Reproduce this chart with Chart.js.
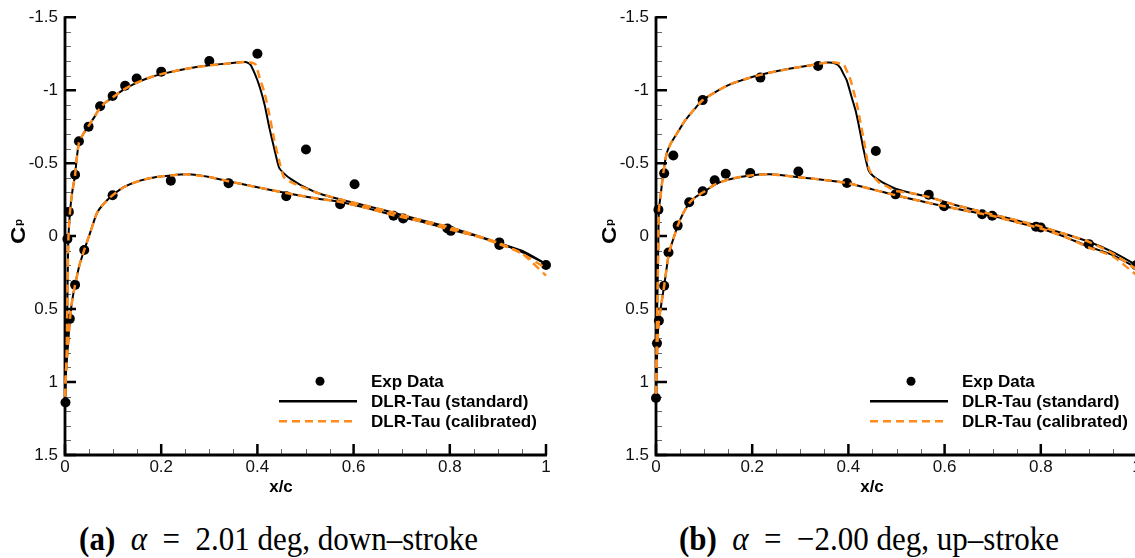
<!DOCTYPE html>
<html><head><meta charset="utf-8">
<script src="https://cdn.jsdelivr.net/npm/chart.js@4.4.1/dist/chart.umd.min.js"></script>
<style>
html,body{margin:0;padding:0;background:#fff;}
body{width:1135px;height:558px;overflow:hidden;position:relative;}
canvas{position:absolute;top:0;}
#ca{left:0;}
#cb{left:591px;}
.cap{position:absolute;top:523px;font-family:"Liberation Serif","Times New Roman",serif;font-size:31px;line-height:33px;text-align:center;white-space:nowrap;color:#000;transform:scaleY(1.08);transform-origin:50% 80%;}
</style></head><body>
<canvas id="ca" width="567" height="500"></canvas>
<canvas id="cb" width="567" height="500"></canvas>
<div class="cap" id="capA" style="left:0;width:557px;"></div>
<div class="cap" id="capB" style="left:591px;width:556px;"></div>
<script>
// ---------- labels ----------
const xTickLabels = ['0', '0.2', '0.4', '0.6', '0.8', '1'];
const yTickLabels = ['-1.5', '-1', '-0.5', '0', '0.5', '1', '1.5'];
const legendLabels = ['Exp Data', 'DLR-Tau (standard)', 'DLR-Tau (calibrated)'];
const xTitle = 'x/c';
const yTitleMain = 'C';
const yTitleSub = 'p';
const captionA = ['(a)', 'α', '= 2.01 deg, down–stroke'];
const captionB = ['(b)', 'α', '= −2.00 deg, up–stroke'];

// ---------- panel (a) data ----------
const aExpX  = [0.001, 0.005, 0.008, 0.021, 0.029, 0.049, 0.073, 0.099, 0.125, 0.149, 0.2, 0.3, 0.4, 0.501, 0.602, 0.683, 0.795, 0.903, 1.0,
                0.01, 0.021, 0.04, 0.099, 0.22, 0.34, 0.46, 0.572, 0.703, 0.802, 0.903];
const aExpCp = [1.14, 0.02, -0.166, -0.42, -0.65, -0.75, -0.89, -0.96, -1.03, -1.08, -1.127, -1.2, -1.25, -0.593, -0.355, -0.139, -0.052, 0.043, 0.198,
                0.567, 0.334, 0.095, -0.28, -0.38, -0.363, -0.273, -0.218, -0.12, -0.036, 0.061];

const aStdUpX  = [0, 0.002, 0.0035, 0.0045, 0.0055, 0.007, 0.0104, 0.015, 0.021, 0.024, 0.029, 0.038, 0.049, 0.06, 0.073, 0.086, 0.099, 0.12, 0.142, 0.17, 0.2, 0.25, 0.3, 0.34, 0.375,
                  0.385, 0.395, 0.405, 0.415, 0.425, 0.435, 0.445, 0.455, 0.47, 0.49, 0.53, 0.58, 0.63, 0.68, 0.74, 0.8, 0.85, 0.9, 0.95, 1.0];
const aStdUpCp = [1.12, 0.95, 0.78, 0.55, 0.32, 0.02, -0.166, -0.3, -0.42, -0.52, -0.64, -0.7, -0.755, -0.81, -0.88, -0.92, -0.95, -1.0, -1.04, -1.08, -1.11, -1.145, -1.17, -1.183, -1.193,
                  -1.177, -1.11, -1.02, -0.9, -0.74, -0.6, -0.47, -0.43, -0.39, -0.35, -0.29, -0.245, -0.205, -0.163, -0.11, -0.06, -0.01, 0.045, 0.11, 0.19];
const aCalUpX  = [0, 0.002, 0.0035, 0.0045, 0.0055, 0.007, 0.0104, 0.015, 0.021, 0.024, 0.029, 0.038, 0.049, 0.06, 0.073, 0.086, 0.099, 0.12, 0.142, 0.17, 0.2, 0.25, 0.3, 0.34, 0.375,
                  0.385, 0.396, 0.405, 0.415, 0.425, 0.435, 0.445, 0.455, 0.47, 0.49, 0.53, 0.58, 0.63, 0.68, 0.74, 0.8, 0.85, 0.9, 0.95, 1.0];
const aCalUpCp = [1.1, 0.95, 0.78, 0.55, 0.32, 0.02, -0.166, -0.3, -0.42, -0.52, -0.64, -0.7, -0.755, -0.81, -0.88, -0.92, -0.95, -1.0, -1.04, -1.08, -1.11, -1.145, -1.17, -1.183, -1.193,
                  -1.19, -1.177, -1.08, -0.98, -0.83, -0.66, -0.52, -0.404, -0.37, -0.34, -0.29, -0.245, -0.205, -0.163, -0.11, -0.06, -0.01, 0.045, 0.12, 0.22];

const aStdLoX  = [0, 0.0015, 0.0055, 0.0104, 0.015, 0.021, 0.03, 0.04, 0.052, 0.066, 0.08, 0.099, 0.125, 0.156, 0.19, 0.22, 0.253, 0.3, 0.34, 0.4, 0.46, 0.52, 0.572, 0.63, 0.683, 0.74, 0.795, 0.85, 0.903, 0.95, 1.0];
const aStdLoCp = [1.12, 0.95, 0.78, 0.567, 0.44, 0.334, 0.2, 0.095, -0.02, -0.155, -0.22, -0.28, -0.34, -0.38, -0.405, -0.416, -0.423, -0.405, -0.375, -0.335, -0.295, -0.26, -0.234, -0.19, -0.143, -0.1, -0.05, -0.005, 0.05, 0.1, 0.19];
const aCalLoX  = [0, 0.0015, 0.0055, 0.0104, 0.015, 0.021, 0.03, 0.04, 0.052, 0.066, 0.08, 0.099, 0.125, 0.156, 0.19, 0.22, 0.253, 0.3, 0.34, 0.4, 0.46, 0.52, 0.572, 0.63, 0.683, 0.74, 0.795, 0.85, 0.903, 0.95, 1.0];
const aCalLoCp = [1.1, 0.95, 0.78, 0.567, 0.44, 0.334, 0.2, 0.095, -0.02, -0.155, -0.22, -0.28, -0.34, -0.38, -0.405, -0.416, -0.423, -0.405, -0.375, -0.335, -0.295, -0.26, -0.234, -0.19, -0.143, -0.1, -0.05, -0.005, 0.055, 0.12, 0.27];

// ---------- panel (b) data ----------
const bExpX  = [0.0, 0.002, 0.006, 0.017, 0.026, 0.045, 0.069, 0.097, 0.122, 0.145, 0.196, 0.296, 0.397, 0.498, 0.599, 0.699, 0.8,
                0.005, 0.017, 0.036, 0.097, 0.217, 0.337, 0.457, 0.567, 0.678, 0.79, 0.9, 0.998];
const bExpCp = [1.11, 0.735, 0.58, 0.34, 0.112, -0.072, -0.232, -0.307, -0.382, -0.427, -0.432, -0.443, -0.364, -0.286, -0.205, -0.139, -0.059,
                -0.18, -0.43, -0.552, -0.932, -1.086, -1.166, -0.583, -0.284, -0.15, -0.064, 0.055, 0.2];

const bStdUpX  = [0, 0.0014, 0.0035, 0.005, 0.006, 0.01, 0.015, 0.022, 0.03, 0.043, 0.06, 0.08, 0.097, 0.125, 0.154, 0.185, 0.217, 0.255, 0.293, 0.325, 0.356,
                  0.373, 0.383, 0.39, 0.397, 0.406, 0.415, 0.424, 0.432, 0.442, 0.452, 0.47, 0.498, 0.53, 0.567, 0.62, 0.678, 0.735, 0.79, 0.845, 0.9, 0.95, 1.0];
const bStdUpCp = [1.1, 0.69, 0.32, 0.005, -0.177, -0.29, -0.43, -0.564, -0.63, -0.7, -0.79, -0.87, -0.932, -0.99, -1.04, -1.075, -1.105, -1.133, -1.155, -1.172, -1.19,
                  -1.182, -1.155, -1.11, -1.064, -0.96, -0.86, -0.72, -0.586, -0.45, -0.41, -0.37, -0.325, -0.295, -0.268, -0.215, -0.166, -0.12, -0.075, -0.02, 0.039, 0.11, 0.2];
const bCalUpX  = [0, 0.0014, 0.0035, 0.005, 0.006, 0.01, 0.015, 0.022, 0.03, 0.043, 0.06, 0.08, 0.097, 0.125, 0.154, 0.185, 0.217, 0.255, 0.293, 0.325, 0.356,
                  0.373, 0.383, 0.39, 0.397, 0.404, 0.411, 0.418, 0.425, 0.432, 0.442, 0.449, 0.456, 0.463, 0.48, 0.498, 0.53, 0.567, 0.62, 0.678, 0.735, 0.79, 0.845, 0.9, 0.95, 1.0];
const bCalUpCp = [1.08, 0.69, 0.32, 0.005, -0.177, -0.29, -0.43, -0.564, -0.63, -0.7, -0.79, -0.87, -0.932, -0.99, -1.04, -1.075, -1.105, -1.133, -1.155, -1.172, -1.19,
                  -1.19, -1.182, -1.177, -1.13, -1.075, -0.99, -0.9, -0.78, -0.66, -0.47, -0.42, -0.393, -0.37, -0.34, -0.31, -0.295, -0.268, -0.215, -0.166, -0.12, -0.075, -0.02, 0.039, 0.12, 0.23];

const bStdLoX  = [0, 0.003, 0.006, 0.017, 0.027, 0.036, 0.045, 0.057, 0.069, 0.083, 0.099, 0.126, 0.16, 0.196, 0.2375, 0.296, 0.35, 0.397, 0.45, 0.498, 0.55, 0.599, 0.65, 0.699, 0.75, 0.8, 0.85, 0.9, 0.95, 1.0];
const bStdLoCp = [1.1, 0.73, 0.58, 0.34, 0.114, 0.02, -0.07, -0.16, -0.225, -0.27, -0.302, -0.36, -0.395, -0.416, -0.423, -0.404, -0.385, -0.364, -0.32, -0.28, -0.24, -0.205, -0.17, -0.139, -0.095, -0.052, 0.005, 0.073, 0.13, 0.22];
const bCalLoX  = [0, 0.003, 0.006, 0.017, 0.027, 0.036, 0.045, 0.057, 0.069, 0.083, 0.099, 0.126, 0.16, 0.196, 0.2375, 0.296, 0.35, 0.397, 0.45, 0.498, 0.55, 0.599, 0.65, 0.699, 0.75, 0.8, 0.85, 0.9, 0.95, 1.0];
const bCalLoCp = [1.08, 0.73, 0.58, 0.34, 0.114, 0.02, -0.07, -0.16, -0.225, -0.27, -0.302, -0.36, -0.395, -0.416, -0.423, -0.404, -0.385, -0.364, -0.32, -0.28, -0.24, -0.205, -0.17, -0.139, -0.095, -0.052, 0.005, 0.078, 0.14, 0.27];

// ---------- styling ----------
const ORANGE = '#ff8c1a';
const SANS = '"Liberation Sans", Arial, sans-serif';

function pts(xs, ys) { return xs.map((v, i) => ({ x: v, y: ys[i] })); }

const decoPlugin = {
  id: 'deco',
  beforeDatasetsDraw(chart) {
    const { ctx, chartArea: ca, scales: { x, y } } = chart;
    ctx.save();
    // minor ticks (inward)
    ctx.strokeStyle = '#6a6a6a';
    ctx.lineWidth = 1;
    ctx.beginPath();
    for (let i = 1; i < 20; i++) {
      if (i % 4 === 0) continue;
      const px = Math.round(x.getPixelForValue(i * 0.05)) + 0.5;
      ctx.moveTo(px, ca.bottom); ctx.lineTo(px, ca.bottom - 6);
    }
    for (let i = 1; i < 30; i++) {
      if (i % 5 === 0) continue;
      const py = Math.round(y.getPixelForValue(-1.5 + i * 0.1)) + 0.5;
      ctx.moveTo(ca.left, py); ctx.lineTo(ca.left + 6, py);
    }
    ctx.stroke();
    // major ticks (inward)
    ctx.strokeStyle = '#000';
    ctx.lineWidth = 2.5;
    ctx.beginPath();
    x.ticks.forEach(t => { const px = x.getPixelForValue(t.value); ctx.moveTo(px, ca.bottom); ctx.lineTo(px, ca.bottom - 11); });
    y.ticks.forEach(t => { const py = y.getPixelForValue(t.value); ctx.moveTo(ca.left, py); ctx.lineTo(ca.left + 11, py); });
    ctx.stroke();
    // axis lines
    ctx.lineWidth = 2.8;
    ctx.lineJoin = 'miter';
    ctx.beginPath();
    ctx.moveTo(ca.left, y.getPixelForValue(-1.5) - 1);
    ctx.lineTo(ca.left, ca.bottom);
    ctx.lineTo(x.getPixelForValue(1) + 1, ca.bottom);
    ctx.stroke();
    ctx.restore();
  },
  afterDraw(chart) {
    const { ctx, chartArea: ca } = chart;
    const ds = chart.data.datasets;
    ctx.save();
    ctx.fillStyle = '#000';
    // x title
    ctx.font = 'bold 17px ' + SANS;
    ctx.textAlign = 'center';
    ctx.textBaseline = 'alphabetic';
    ctx.fillText(xTitle, ca.left + 216, ca.bottom + 37);
    // y title C_p (rotated)
    ctx.save();
    ctx.translate(19, ca.top + 218);
    ctx.rotate(-Math.PI / 2);
    ctx.scale(1.15, 1);
    ctx.font = 'bold 21px ' + SANS;
    ctx.textAlign = 'center';
    ctx.textBaseline = 'middle';
    ctx.fillText(yTitleMain, 0, 0);
    ctx.font = 'bold 10px ' + SANS;
    ctx.textAlign = 'left';
    ctx.textBaseline = 'alphabetic';
    ctx.fillText(yTitleSub, 8, 3);
    ctx.restore();
    // legend
    const lx0 = ca.left + 214, lx1 = ca.left + 292, dotX = ca.left + 255, tx = ca.left + 306;
    const ly = [ca.top + 364, ca.top + 384, ca.top + 404];
    const exp = ds[4], std = ds[2], cal = ds[0];
    ctx.beginPath();
    ctx.arc(dotX, ly[0], 4.5, 0, Math.PI * 2);
    ctx.fillStyle = exp.pointBackgroundColor;
    ctx.fill();
    ctx.strokeStyle = std.borderColor; ctx.lineWidth = 2.5;
    ctx.beginPath(); ctx.moveTo(lx0, ly[1]); ctx.lineTo(lx1, ly[1]); ctx.stroke();
    ctx.strokeStyle = cal.borderColor; ctx.lineWidth = 2.5;
    ctx.setLineDash(cal.borderDash);
    ctx.beginPath(); ctx.moveTo(lx0, ly[2]); ctx.lineTo(lx1, ly[2]); ctx.stroke();
    ctx.setLineDash([]);
    ctx.fillStyle = '#000';
    ctx.font = 'bold 17px ' + SANS;
    ctx.textAlign = 'left';
    ctx.textBaseline = 'alphabetic';
    ctx.fillText(exp.label, tx, ly[0] + 6);
    ctx.fillText(std.label, tx, ly[1] + 6);
    ctx.fillText(cal.label, tx, ly[2] + 6);
    ctx.restore();
  }
};

function makeChart(id, expX, expCp, stdUpX, stdUpCp, stdLoX, stdLoCp, calUpX, calUpCp, calLoX, calLoCp) {
  const lineCal = { showLine: true, borderColor: ORANGE, borderWidth: 2.5, borderDash: [8, 5], pointRadius: 0, tension: 0.2, fill: false, clip: false, label: legendLabels[2] };
  const lineStd = { showLine: true, borderColor: '#000', borderWidth: 2, pointRadius: 0, tension: 0.2, fill: false, clip: false, label: legendLabels[1] };
  return new Chart(document.getElementById(id), {
    type: 'scatter',
    data: {
      datasets: [
        Object.assign({}, lineCal, { data: pts(calUpX, calUpCp) }),
        Object.assign({}, lineCal, { data: pts(calLoX, calLoCp) }),
        Object.assign({}, lineStd, { data: pts(stdUpX, stdUpCp) }),
        Object.assign({}, lineStd, { data: pts(stdLoX, stdLoCp) }),
        { label: legendLabels[0], data: pts(expX, expCp), showLine: false, pointRadius: 5, pointBackgroundColor: '#000', pointBorderWidth: 0, pointBorderColor: '#000', clip: false }
      ]
    },
    options: {
      responsive: false,
      animation: false,
      devicePixelRatio: 1,
      events: [],
      layout: { padding: { left: 0, top: 16, right: 21, bottom: 0 } },
      plugins: { legend: { display: false }, tooltip: { enabled: false } },
      scales: {
        x: {
          type: 'linear', min: 0, max: 1,
          grid: { display: false, drawTicks: false },
          border: { display: false },
          ticks: { stepSize: 0.2, padding: 2, color: '#111', autoSkip: false, maxRotation: 0,
                   font: { family: SANS, size: 17 }, callback: v => xTickLabels[Math.round(v / 0.2)] },
          afterFit(s) { s.height = 45; }
        },
        y: {
          type: 'linear', min: -1.5, max: 1.5, reverse: true,
          grid: { display: false, drawTicks: false },
          border: { display: false },
          ticks: { stepSize: 0.5, padding: 7, color: '#111', autoSkip: false,
                   font: { family: SANS, size: 17 }, callback: v => yTickLabels[Math.round((v + 1.5) / 0.5)] },
          afterFit(s) { s.width = 65; }
        }
      }
    },
    plugins: [decoPlugin]
  });
}

makeChart('ca', aExpX, aExpCp, aStdUpX, aStdUpCp, aStdLoX, aStdLoCp, aCalUpX, aCalUpCp, aCalLoX, aCalLoCp);
makeChart('cb', bExpX, bExpCp, bStdUpX, bStdUpCp, bStdLoX, bStdLoCp, bCalUpX, bCalUpCp, bCalLoX, bCalLoCp);

function setCaption(el, parts) {
  el.innerHTML = '';
  const b = document.createElement('b'); b.textContent = parts[0];
  const i = document.createElement('i'); i.textContent = parts[1];
  el.appendChild(b);
  el.appendChild(document.createTextNode('\u2002'));
  el.appendChild(i);
  el.appendChild(document.createTextNode('\u2002' + parts[2].replace('= ', '=\u2002')));
}
setCaption(document.getElementById('capA'), captionA);
setCaption(document.getElementById('capB'), captionB);
</script>
</body></html>
